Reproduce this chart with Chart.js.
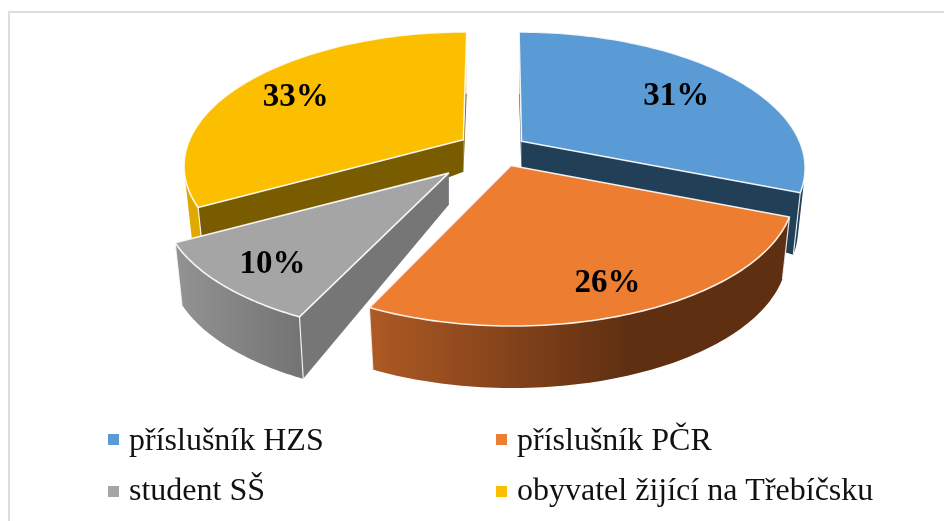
<!DOCTYPE html>
<html>
<head>
<meta charset="utf-8">
<style>
html,body{margin:0;padding:0;background:#fff}
#wrap{position:absolute;left:0;top:0;width:944px;height:521px}
</style>
<script src="https://cdn.jsdelivr.net/npm/chart.js@4"></script>
</head>
<body>
<div id="wrap"><canvas id="c" width="944" height="521"></canvas></div>
<script>
const categories = ['příslušník HZS', 'příslušník PČR', 'student SŠ', 'obyvatel žijící na Třebíčsku'];
const shares = [31, 26, 10, 33];
const tickLabels = ['31%', '26%', '10%', '33%'];
const topColors = ['#5b9bd5', '#ed7d31', '#a5a5a5', '#fcbf00'];
const wallColors = ['#223f58', '#5f2f12', '#767676', '#7a5c00'];
const rimStart = ['#223f58', '#ae5a24', '#939393', '#dfa900'];
const rimEnd = ['#223f58', '#5f2f12', '#747474', '#dfa900'];
const rimStop = [1, 0.62, 1, 1];
const explode = [25, 31, 57, 33];
const sliceScale = [1, 1, 1.01, 0.985];
const labelRho = [0.73, 0.8, 0.8, 0.77];
const drawOrder = [3, 0, 2, 1];

// camera
const CX = 497, CY = 149, SX = 278, SY = 130, K = 0.19, SKEW = 0.1;
const DEPTH0 = 32, DEPTH1 = 30, SHRINK = 0.975, LABEL_DY = 5;

function project(u, v) {
  const w = 1 - K * v;
  return { x: SX * u / w, y: SY * v / w };
}

const pie3d = {
  id: 'pie3d',
  beforeDatasetsDraw(chart) {
    const ctx = chart.ctx;
    const arcs = chart.getDatasetMeta(0).data;
    const anchor = el => {
      const mid = (el.startAngle + el.endAngle) / 2;
      const e = el.options.offset / el.outerRadius;
      const p = project(e * Math.cos(mid), e * Math.sin(mid));
      return { x: CX + p.x, y: CY + p.y };
    };
    const onTop = (el, i, a, rho) => {
      const apex = anchor(el);
      const r = rho * sliceScale[i];
      const p = project(r * Math.cos(a), r * Math.sin(a));
      return {
        x: apex.x + p.x + (apex.x - CX) * SKEW * r * Math.sin(a),
        y: apex.y + p.y
      };
    };
    drawOrder.forEach(i => {
      const el = arcs[i];
      const apex = anchor(el);
      const low = p => ({
        x: apex.x + (p.x - apex.x) * SHRINK,
        y: p.y + DEPTH0 + DEPTH1
      });
      const lowApex = { x: apex.x, y: apex.y + DEPTH0 };
      const rim = [];
      const steps = 80;
      for (let s = 0; s <= steps; s++) {
        rim.push(onTop(el, i, el.startAngle + (el.endAngle - el.startAngle) * s / steps, 1));
      }
      const first = rim[0], last = rim[steps];
      const trace = pts => {
        pts.forEach((p, n) => n ? ctx.lineTo(p.x, p.y) : ctx.moveTo(p.x, p.y));
        ctx.closePath();
      };
      ctx.save();
      ctx.lineJoin = 'round';
      // radial walls
      ctx.fillStyle = wallColors[i];
      [first, last].forEach(p => {
        ctx.beginPath();
        trace([apex, p, low(p), lowApex]);
        ctx.fill();
      });
      // outer rim: strips wound the same way, filled as one path
      const xs = rim.map(p => p.x);
      const g = ctx.createLinearGradient(Math.min(...xs), 0, Math.max(...xs), 0);
      g.addColorStop(0, rimStart[i]);
      g.addColorStop(rimStop[i], rimEnd[i]);
      g.addColorStop(1, rimEnd[i]);
      ctx.fillStyle = g;
      ctx.beginPath();
      for (let s = 0; s < steps; s++) {
        const quad = [rim[s], rim[s + 1], low(rim[s + 1]), low(rim[s])];
        let area = 0;
        quad.forEach((p, n) => {
          const q = quad[(n + 1) % 4];
          area += p.x * q.y - q.x * p.y;
        });
        trace(area < 0 ? quad.reverse() : quad);
      }
      ctx.fill();
      // light vertical edges
      ctx.strokeStyle = 'rgba(255,255,255,0.85)';
      ctx.lineWidth = 1.2;
      [first, last].forEach(p => {
        const q = low(p);
        ctx.beginPath(); ctx.moveTo(p.x, p.y); ctx.lineTo(q.x, q.y); ctx.stroke();
      });
      // top face
      ctx.beginPath();
      trace([apex].concat(rim));
      ctx.fillStyle = topColors[i];
      ctx.fill();
      ctx.lineWidth = 1.6;
      ctx.strokeStyle = 'rgba(255,255,255,0.9)';
      ctx.stroke();
      ctx.restore();
    });
    // value labels
    ctx.save();
    ctx.fillStyle = '#000';
    ctx.font = 'bold 33px "Liberation Serif"';
    ctx.textAlign = 'center';
    ctx.textBaseline = 'middle';
    arcs.forEach((el, i) => {
      const mid = (el.startAngle + el.endAngle) / 2;
      const p = onTop(el, i, mid, labelRho[i]);
      ctx.fillText(tickLabels[i], p.x, p.y + LABEL_DY);
    });
    ctx.restore();
    return false;
  },
  afterDraw(chart) {
    const ctx = chart.ctx;
    ctx.save();
    // frame
    ctx.fillStyle = '#dedede';
    ctx.fillRect(8, 11, 936, 2);
    ctx.fillRect(8, 11, 2, 510);
    // legend grid
    const colMarker = [108, 496], rowMarker = [434, 486];
    const colText = [129, 517], rowText = [450, 500];
    ctx.font = '32px "Liberation Serif"';
    ctx.textAlign = 'left';
    ctx.textBaseline = 'alphabetic';
    categories.forEach((label, i) => {
      const c = i % 2, r = i >> 1;
      ctx.fillStyle = topColors[i];
      ctx.fillRect(colMarker[c], rowMarker[r], 11, 11);
      ctx.fillStyle = '#111';
      ctx.fillText(label, colText[c], rowText[r]);
    });
    ctx.restore();
  }
};

new Chart(document.getElementById('c'), {
  type: 'pie',
  data: {
    labels: categories,
    datasets: [{ data: shares, backgroundColor: topColors, offset: explode, borderWidth: 0 }]
  },
  options: {
    responsive: false,
    animation: false,
    layout: { padding: 0 },
    plugins: { legend: { display: false }, tooltip: { enabled: false } }
  },
  plugins: [pie3d]
});
</script>
</body>
</html>
